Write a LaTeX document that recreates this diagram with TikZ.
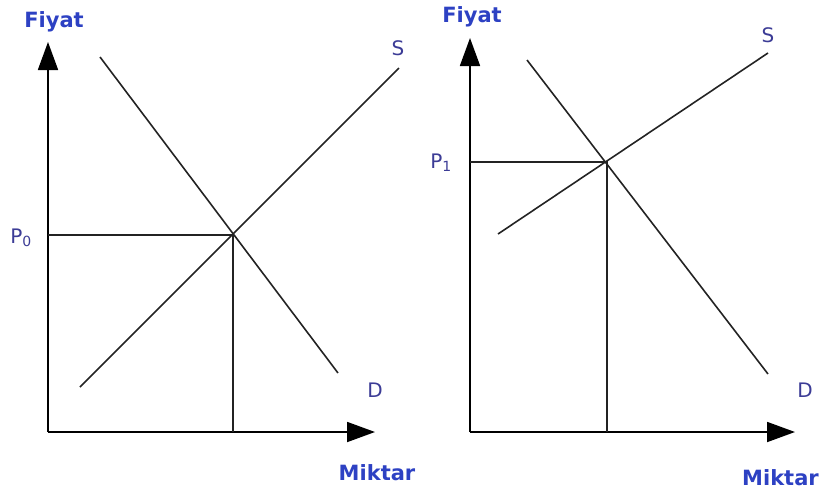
\documentclass[tikz,border=0pt]{standalone}
\usepackage{fontspec}
\setmainfont{DejaVu Sans}
\usetikzlibrary{arrows.meta}
\definecolor{axblue}{RGB}{45,65,195}
\definecolor{lblblue}{RGB}{60,60,150}
\definecolor{ln}{RGB}{35,35,35}
\begin{document}
\begin{tikzpicture}[x=1pt,y=-1pt,
  axis/.style={line width=1.8pt, draw=black, -{Triangle[length=28pt,width=20pt]}},
  curve/.style={line width=1.6pt, draw=ln},
  guide/.style={line width=1.6pt, draw=ln},
  axlabel/.style={font=\fontsize{21}{24}\selectfont\bfseries, text=axblue, inner sep=0pt},
  lbl/.style={font=\fontsize{20}{24}\selectfont, text=lblblue, inner sep=0pt}]
\useasboundingbox (0,0) rectangle (820,496);
% ---------- left chart ----------
\coordinate (O1) at (48,432);
\coordinate (Y1) at (48,42);
\coordinate (X1) at (375,432);
\coordinate (E1) at (233,235);
\coordinate (P0a) at (48,235);
\coordinate (Q1) at (233,432);
\coordinate (S1a) at (80,387);
\coordinate (S1b) at (399,68);
\coordinate (D1a) at (100,57);
\coordinate (D1b) at (338,373);
\draw[axis] (O1) -- (Y1);
\draw[axis] (O1) -- (X1);
\draw[curve] (S1a) -- (S1b);
\draw[curve] (D1a) -- (D1b);
\draw[guide] (P0a) -- (E1) -- (Q1);
\node[axlabel] (fiyat1) at (54,22) {Fiyat};
\node[axlabel] (miktar1) at (377,473) {Miktar};
\node[lbl] (p0) at (21,238) {P\textsubscript{0}};
\node[lbl] (s1) at (398,48) {S};
\node[lbl] (d1) at (375,390) {D};
% ---------- right chart ----------
\coordinate (O2) at (470,432);
\coordinate (Y2) at (470,38);
\coordinate (X2) at (795,432);
\coordinate (E2) at (607,162);
\coordinate (P1a) at (470,162);
\coordinate (Q2) at (607,432);
\coordinate (S2a) at (498,234);
\coordinate (S2b) at (768,53);
\coordinate (D2a) at (527,60);
\coordinate (D2b) at (768,374);
\draw[axis] (O2) -- (Y2);
\draw[axis] (O2) -- (X2);
\draw[curve] (S2a) -- (S2b);
\draw[curve] (D2a) -- (D2b);
\draw[guide] (P1a) -- (E2) -- (Q2);
\node[axlabel] (fiyat2) at (472,17) {Fiyat};
\node[axlabel, anchor=east] (miktar2) at (819,478) {Miktar};
\node[lbl] (p1) at (441,163) {P\textsubscript{1}};
\node[lbl] (s2) at (768,35) {S};
\node[lbl] (d2) at (805,390) {D};
\end{tikzpicture}
\end{document}
